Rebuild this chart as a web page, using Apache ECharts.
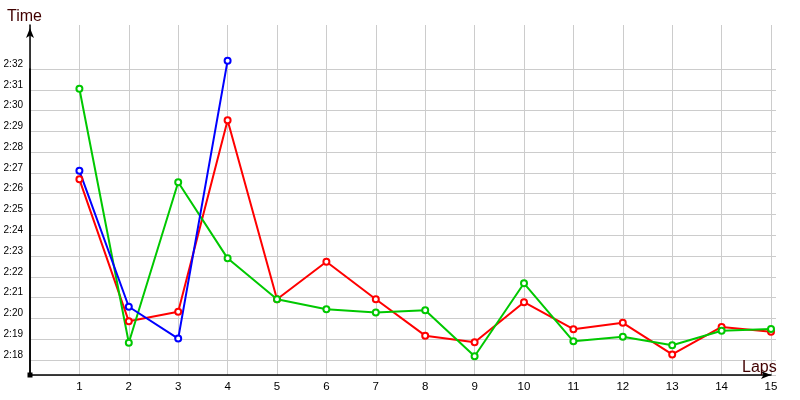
<!DOCTYPE html>
<html>
<head>
<meta charset="utf-8">
<script src="https://cdn.jsdelivr.net/npm/echarts@6/dist/echarts.min.js"></script>
<style>html,body{margin:0;padding:0;background:#fff;}#c{width:800px;height:400px;}</style>
</head>
<body>
<div id="c"></div>
<script>
// Lap numbers
var laps = [1, 2, 3, 4, 5, 6, 7, 8, 9, 10, 11, 12, 13, 14, 15];
// Lap times in seconds (2:18 = 138 s)
var redTimes = [146.69, 139.86, 140.32, 149.53, 140.92, 142.73, 140.92, 139.17, 138.85, 140.78, 139.48, 139.79, 138.27, 139.59, 139.36];
var greenTimes = [151.05, 138.83, 146.55, 142.89, 140.92, 140.44, 140.29, 140.39, 138.18, 141.69, 138.90, 139.12, 138.71, 139.41, 139.49];
var blueTimes = [147.10, 140.56, 139.03, 152.40];
// Y tick labels shown (seconds)
var yTickLabels = ['2:18','2:19','2:20','2:21','2:22','2:23','2:24','2:25','2:26','2:27','2:28','2:29','2:30','2:31','2:32'];
var yTickFirst = 138;

function pairs(vals) { return vals.map(function (v, i) { return [laps[i], v]; }); }

var FONT = 'Liberation Sans';
var Y_MIN = 137.278, Y_MAX = 154.117, Y_GRID_MAX = 152;

var chart = echarts.init(document.getElementById('c'), null, { renderer: 'canvas' });
chart.setOption({
  animation: false,
  backgroundColor: '#ffffff',
  title: [
    { text: 'Time', left: 2, top: 4, textStyle: { fontFamily: FONT, fontSize: 16, fontWeight: 'normal', color: '#400000' } },
    { text: 'Laps', left: 737, top: 355, textStyle: { fontFamily: FONT, fontSize: 16, fontWeight: 'normal', color: '#400000' } }
  ],
  grid: [
    { left: 30, right: 29, top: 25, bottom: 25, containLabel: false },
    { left: 30, right: 24, top: 69, bottom: 25, containLabel: false }
  ],
  xAxis: [
    {
      type: 'value', gridIndex: 0, min: 0, max: 15, interval: 1,
      axisLine: { show: true, lineStyle: { color: '#000', width: 1.5 }, symbol: ['none', 'arrow'], symbolSize: [6, 10] },
      axisTick: { show: false },
      axisLabel: {
        margin: 6, fontFamily: FONT, fontSize: 11.5, color: '#000',
        formatter: function (v) { return v >= 1 ? String(v) : ''; }
      },
      splitLine: { show: true, lineStyle: { color: '#cccccc', width: 1 } }
    },
    {
      type: 'value', gridIndex: 1, min: 0, max: 15, interval: 1, show: false
    }
  ],
  yAxis: [
    {
      type: 'value', gridIndex: 0, min: Y_MIN, max: Y_MAX,
      axisLine: { show: true, lineStyle: { color: '#000', width: 1.5 }, symbol: ['none', 'arrow'], symbolSize: [6, 10], symbolOffset: [0, -3] },
      axisTick: { show: false },
      axisLabel: { show: false },
      splitLine: { show: false }
    },
    {
      type: 'value', gridIndex: 1, min: Y_MIN, max: Y_GRID_MAX, splitNumber: 15, minInterval: 1, maxInterval: 1,
      axisLine: { show: true, lineStyle: { color: '#000', width: 1.5 }, symbol: ['rect', 'none'], symbolSize: [5, 5] },
      axisTick: { show: false },
      axisLabel: {
        margin: 7, fontFamily: FONT, fontSize: 10, color: '#000', verticalAlign: 'bottom', lineHeight: 10,
        formatter: function (v) {
          var k = Math.round(v - yTickFirst);
          if (Math.abs(v - Math.round(v)) > 1e-6 || k < 0 || k >= yTickLabels.length) return '';
          return yTickLabels[k];
        }
      },
      splitLine: { show: true, lineStyle: { color: '#cccccc', width: 1 } }
    }
  ],
  series: [
    { name: 'red', type: 'line', xAxisIndex: 0, yAxisIndex: 0, data: pairs(redTimes),
      symbol: 'emptyCircle', symbolSize: 6, lineStyle: { color: '#ff0000', width: 2 },
      itemStyle: { color: '#ff0000', borderWidth: 1.3 } },
    { name: 'green', type: 'line', xAxisIndex: 0, yAxisIndex: 0, data: pairs(greenTimes),
      symbol: 'emptyCircle', symbolSize: 6, lineStyle: { color: '#00c800', width: 2 },
      itemStyle: { color: '#00c800', borderWidth: 1.3 } },
    { name: 'blue', type: 'line', xAxisIndex: 0, yAxisIndex: 0, data: pairs(blueTimes),
      symbol: 'emptyCircle', symbolSize: 6, lineStyle: { color: '#0000ff', width: 2 },
      itemStyle: { color: '#0000ff', borderWidth: 1.3 } }
  ]
});
</script>
</body>
</html>
